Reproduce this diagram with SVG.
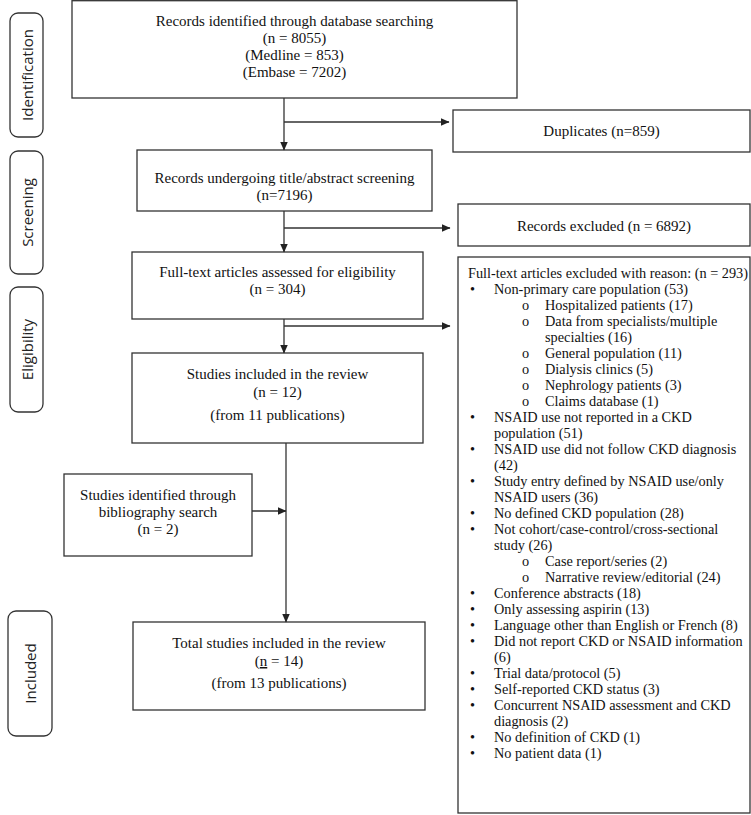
<svg xmlns="http://www.w3.org/2000/svg" width="751" height="815" viewBox="0 0 751 815">
<defs>
<marker id="arr" markerWidth="9" markerHeight="8" refX="8.5" refY="4" orient="auto" markerUnits="userSpaceOnUse">
<path d="M0,0 L9,4 L0,8 Z" fill="#222"/>
</marker>
<style>
.box{fill:#fff;stroke:#333;stroke-width:1.3}
.lab{fill:#fff;stroke:#333;stroke-width:1.3}
.t{font-family:"Liberation Serif","Times New Roman",serif;font-size:15px;fill:#111;text-anchor:middle}
.r{font-family:"Liberation Serif","Times New Roman",serif;font-size:14.3px;fill:#111}
.s{font-family:"Open Sans","DejaVu Sans",sans-serif;font-size:15px;fill:#222;text-anchor:middle;dominant-baseline:central}
.c{fill:none;stroke:#333;stroke-width:1.3}
</style>
</defs>
<rect width="751" height="815" fill="#fff"/>

<g id="stage-identification">
<rect class="lab" x="10" y="13" width="33" height="124" rx="8"/>
<text class="s" x="26.5" y="75" transform="rotate(-90 26.5 75)">Identification</text>
</g>
<g id="stage-screening">
<rect class="lab" x="10" y="151" width="33" height="123" rx="8"/>
<text class="s" x="26.5" y="212.5" transform="rotate(-90 26.5 212.5)">Screening</text>
</g>
<g id="stage-eligibility">
<rect class="lab" x="10" y="287" width="33" height="125" rx="8"/>
<text class="s" x="26.5" y="349.5" transform="rotate(-90 26.5 349.5)">Eligibility</text>
</g>
<g id="stage-included">
<rect class="lab" x="8" y="611" width="44" height="125" rx="8"/>
<text class="s" x="30" y="673.5" transform="rotate(-90 30 673.5)">Included</text>
</g>

<g id="records-identified">
<rect class="box" x="72" y="0.7" width="445" height="97.3"/>
<text class="t" x="294.5" y="25.5">Records identified through database searching</text>
<text class="t" x="294.5" y="43">(n = 8055)</text>
<text class="t" x="294.5" y="60">(Medline = 853)</text>
<text class="t" x="294.5" y="77">(Embase = 7202)</text>
</g>

<g id="duplicates">
<rect class="box" x="453" y="110" width="297" height="42"/>
<text class="t" x="601.5" y="136">Duplicates (n=859)</text>
</g>

<g id="screening-box">
<rect class="box" x="137" y="150" width="295" height="61"/>
<text class="t" x="284.5" y="183">Records undergoing title/abstract screening</text>
<text class="t" x="284.5" y="200">(n=7196)</text>
</g>

<g id="records-excluded">
<rect class="box" x="458" y="204" width="292" height="42"/>
<text class="t" x="604" y="231">Records excluded (n = 6892)</text>
</g>

<g id="fulltext-assessed">
<rect class="box" x="132" y="252" width="291" height="67"/>
<text class="t" x="277.5" y="277">Full-text articles assessed for eligibility</text>
<text class="t" x="277.5" y="294">(n = 304)</text>
</g>

<g id="fulltext-excluded">
<rect class="box" x="458" y="257" width="292" height="556"/>
<text class="r" x="468" y="278">Full-text articles excluded with reason: (n = 293)</text>
<g class="r">
<text x="470" y="294">•</text><text x="494" y="294">Non-primary care population (53)</text>
<text x="522" y="310">o</text><text x="545" y="310">Hospitalized patients (17)</text>
<text x="522" y="326">o</text><text x="545" y="326">Data from specialists/multiple</text>
<text x="545" y="342">specialties (16)</text>
<text x="522" y="358">o</text><text x="545" y="358">General population (11)</text>
<text x="522" y="374">o</text><text x="545" y="374">Dialysis clinics (5)</text>
<text x="522" y="390">o</text><text x="545" y="390">Nephrology patients (3)</text>
<text x="522" y="406">o</text><text x="545" y="406">Claims database (1)</text>
<text x="470" y="422">•</text><text x="494" y="422">NSAID use not reported in a CKD</text>
<text x="494" y="438">population (51)</text>
<text x="470" y="454">•</text><text x="494" y="454">NSAID use did not follow CKD diagnosis</text>
<text x="494" y="470">(42)</text>
<text x="470" y="486">•</text><text x="494" y="486">Study entry defined by NSAID use/only</text>
<text x="494" y="502">NSAID users (36)</text>
<text x="470" y="518">•</text><text x="494" y="518">No defined CKD population (28)</text>
<text x="470" y="534">•</text><text x="494" y="534">Not cohort/case-control/cross-sectional</text>
<text x="494" y="550">study (26)</text>
<text x="522" y="566">o</text><text x="545" y="566">Case report/series (2)</text>
<text x="522" y="582">o</text><text x="545" y="582">Narrative review/editorial (24)</text>
<text x="470" y="598">•</text><text x="494" y="598">Conference abstracts (18)</text>
<text x="470" y="614">•</text><text x="494" y="614">Only assessing aspirin (13)</text>
<text x="470" y="630">•</text><text x="494" y="630">Language other than English or French (8)</text>
<text x="470" y="646">•</text><text x="494" y="646">Did not report CKD or NSAID information</text>
<text x="494" y="662">(6)</text>
<text x="470" y="678">•</text><text x="494" y="678">Trial data/protocol (5)</text>
<text x="470" y="694">•</text><text x="494" y="694">Self-reported CKD status (3)</text>
<text x="470" y="710">•</text><text x="494" y="710">Concurrent NSAID assessment and CKD</text>
<text x="494" y="726">diagnosis (2)</text>
<text x="470" y="742">•</text><text x="494" y="742">No definition of CKD (1)</text>
<text x="470" y="758">•</text><text x="494" y="758">No patient data (1)</text>
</g>
</g>

<g id="studies-included">
<rect class="box" x="132" y="353" width="291" height="90"/>
<text class="t" x="277.5" y="379">Studies included in the review</text>
<text class="t" x="277.5" y="397">(n = 12)</text>
<text class="t" x="277.5" y="420">(from 11 publications)</text>
</g>

<g id="bibliography">
<rect class="box" x="64" y="474" width="188" height="82"/>
<text class="t" x="158" y="500">Studies identified through</text>
<text class="t" x="158" y="517">bibliography search</text>
<text class="t" x="158" y="534">(n = 2)</text>
</g>

<g id="total-included">
<rect class="box" x="133" y="622" width="292" height="88"/>
<text class="t" x="279" y="648">Total studies included in the review</text>
<text class="t" x="279" y="666">(<tspan text-decoration="underline">n</tspan> = 14)</text>
<text class="t" x="279" y="688">(from 13 publications)</text>
</g>

<g id="connectors">
<line class="c" x1="284" y1="98" x2="284" y2="150" marker-end="url(#arr)"/>
<line class="c" x1="284" y1="122" x2="449" y2="122" marker-end="url(#arr)"/>
<line class="c" x1="284" y1="211" x2="284" y2="252" marker-end="url(#arr)"/>
<line class="c" x1="284" y1="228" x2="450" y2="228" marker-end="url(#arr)"/>
<line class="c" x1="284" y1="319" x2="284" y2="353" marker-end="url(#arr)"/>
<line class="c" x1="284" y1="326" x2="450" y2="326" marker-end="url(#arr)"/>
<line class="c" x1="286" y1="443" x2="286" y2="622" marker-end="url(#arr)"/>
<line class="c" x1="252" y1="511" x2="286" y2="511" marker-end="url(#arr)"/>
</g>
</svg>
